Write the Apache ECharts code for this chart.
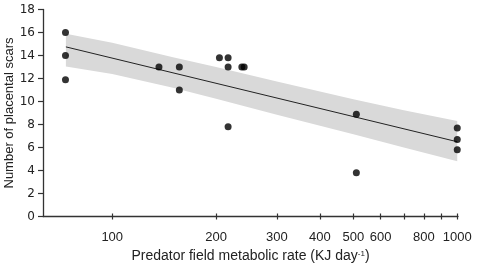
<!DOCTYPE html>
<html>
<head>
<meta charset="utf-8">
<script src="https://cdn.jsdelivr.net/npm/echarts@6/dist/echarts.min.js"></script>
<style>
  html, body { margin: 0; padding: 0; background: #fff; }
  #main { width: 480px; height: 264px; }
</style>
</head>
<body>
<div id="main"></div>
<script>
// scatter points: predator FMR (KJ/day) vs number of placental scars
var fmr = [73.2, 73.2, 73.2, 136.6, 156.5, 156.5, 204.5, 216.7, 216.7, 216.7, 237.5, 241.2, 510, 510, 1000, 1000, 1000, 1008];
var scars = [16, 14, 11.9, 13, 13, 11, 13.8, 13.8, 13, 7.8, 13, 13, 8.9, 3.8, 7.7, 6.7, 5.8, 5.8];

// regression line end points
var fitX = [73.4, 1000];
var fitY = [14.75, 6.5];

// confidence band read at a few x positions
var bandX = [73.4, 100, 150, 200, 300, 500, 700, 1000];
var bandUpper = [15.9, 15.1, 13.85, 13.0, 11.75, 10.2, 9.25, 8.3];
var bandLower = [13.05, 12.4, 11.2, 10.25, 8.85, 7.15, 6.0, 4.8];

// tick labels on the x axis
var xTicks = [100, 200, 300, 400, 500, 600, 700, 800, 900, 1000];
var xLabels = [100, 200, 300, 400, 500, 600, 800, 1000];

var chart = echarts.init(document.getElementById('main'));

var txt = '#222';
var axisCol = '#333';

var option = {
    animation: false,
    grid: { left: 43, right: 22, top: 9.5, bottom: 47.5, containLabel: false, outerBoundsMode: 'none' },
    xAxis: [
        {
            type: 'log',
            logBase: 10,
            min: 63,
            max: 1005,
            name: 'Predator field metabolic rate (KJ day{sup|-1})',
            nameLocation: 'middle',
            nameGap: 33,
            nameMoveOverlap: false,
            nameTextStyle: {
                fontFamily: 'Liberation Sans',
                fontSize: 14,
                color: txt,
                rich: {
                    sup: { fontSize: 8, verticalAlign: 'top', padding: [0, 0, 6, 0], color: txt }
                }
            },
            axisLine: { show: true, lineStyle: { color: axisCol, width: 1.3 } },
            axisTick: { show: true, length: 3, customValues: xTicks, lineStyle: { color: axisCol, width: 1.2 } },
            minorTick: { show: false },
            axisLabel: {
                customValues: xLabels,
                margin: 14,
                fontFamily: 'Liberation Sans',
                fontSize: 13,
                color: txt,
                formatter: function (v) { return String(Math.round(v)); }
            },
            splitLine: { show: false }
        },
        {
            // second copy only for the inside half of the crossing ticks
            type: 'log',
            logBase: 10,
            min: 63,
            max: 1005,
            position: 'bottom',
            axisLine: { show: false },
            axisTick: { show: true, inside: true, length: 3, customValues: xTicks, lineStyle: { color: axisCol, width: 1.2 } },
            axisLabel: { show: false },
            splitLine: { show: false }
        }
    ],
    yAxis: {
        type: 'value',
        min: 0,
        max: 18,
        interval: 2,
        name: 'Number of placental scars',
        nameLocation: 'middle',
        nameGap: 27,
        nameMoveOverlap: false,
        nameTextStyle: { fontFamily: 'Liberation Sans', fontSize: 13, color: txt },
        axisLine: { show: true, lineStyle: { color: axisCol, width: 1.3 } },
        axisTick: { show: true, length: 5, lineStyle: { color: axisCol, width: 1.2 } },
        axisLabel: { margin: 8, fontFamily: 'DejaVu Sans', fontSize: 12, color: txt },
        splitLine: { show: false }
    },
    series: [
        {
            type: 'custom',
            xAxisIndex: 0,
            silent: true,
            data: [[bandX[0], bandUpper[0]]],
            renderItem: function (params, api) {
                var pts = [];
                for (var i = 0; i < bandX.length; i++) {
                    pts.push(api.coord([bandX[i], bandUpper[i]]));
                }
                for (var j = bandX.length - 1; j >= 0; j--) {
                    pts.push(api.coord([bandX[j], bandLower[j]]));
                }
                return {
                    type: 'polygon',
                    shape: { points: pts },
                    style: { fill: '#d9d9d9', stroke: null }
                };
            },
            z: 1
        },
        {
            type: 'line',
            xAxisIndex: 0,
            data: fitX.map(function (x, i) { return [x, fitY[i]]; }),
            showSymbol: false,
            lineStyle: { color: '#222', width: 1 },
            z: 2
        },
        {
            type: 'scatter',
            xAxisIndex: 0,
            data: fmr.map(function (x, i) { return [x, scars[i]]; }),
            symbolSize: 7,
            itemStyle: { color: '#000' },
            z: 3
        }
    ]
};

chart.setOption(option);
</script>
</body>
</html>
